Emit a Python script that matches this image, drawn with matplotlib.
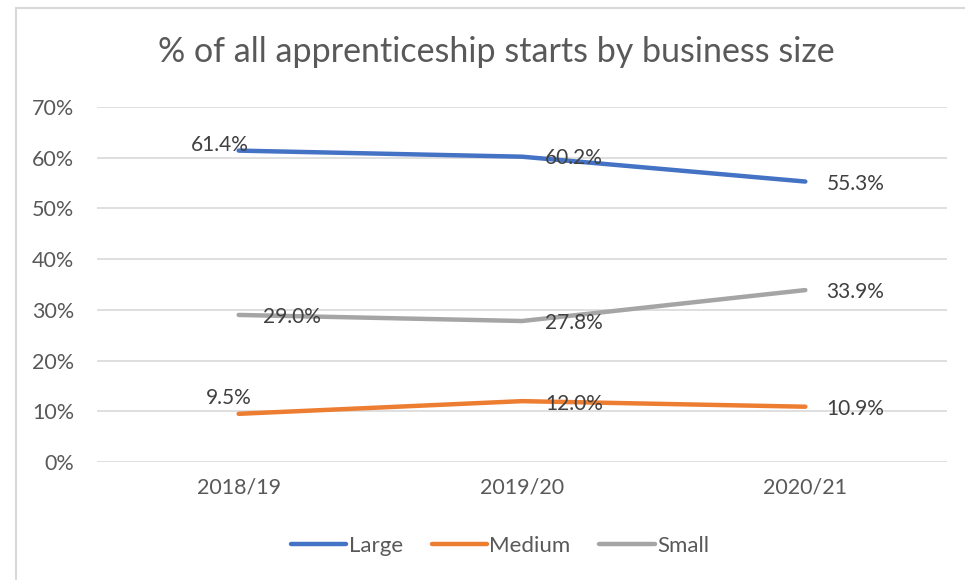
import numpy as np
import matplotlib.pyplot as plt
from matplotlib.patches import Rectangle
from matplotlib.ticker import FuncFormatter

plt.rcParams['font.family'] = ['Lato', 'DejaVu Sans']

years = ['2018/19', '2019/20', '2020/21']
large = [61.4, 60.2, 55.3]
medium = [9.5, 12.0, 10.9]
small = [29.0, 27.8, 33.9]

series = [
    ('Large', large, '#4472C4'),
    ('Medium', medium, '#ED7D31'),
    ('Small', small, '#A5A5A5'),
]

# label offsets in pixels (dx, dy) and horizontal alignment, per series / point
label_offsets = {
    'Large': [(-19, 6, 'center'), (23, -1, 'left'), (21, -2, 'left')],
    'Medium': [(-10, 16, 'center'), (23, -3, 'left'), (21, -2, 'left')],
    'Small': [(24, -2, 'left'), (23, -2, 'left'), (21, -2, 'left')],
}

W, H = 965, 580
fig = plt.figure(figsize=(W / 100, H / 100), dpi=100)
ax = fig.add_axes([97 / W, 1 - 462 / H, 850 / W, 355 / H])

x = np.arange(len(years))
for name, vals, col in series:
    ax.plot(x, vals, color=col, lw=3.2, solid_capstyle='round', label=name, zorder=3)
    for i, v in enumerate(vals):
        dx, dy, ha = label_offsets[name][i]
        ax.annotate(f'{v:.1f}%', (x[i], v), xytext=(dx * 0.72, dy * 0.72),
                    textcoords='offset points', ha=ha, va='center',
                    fontsize=15, color='#404040', zorder=4)

ax.set_xlim(-0.5, len(years) - 0.5)
ax.set_ylim(0, 70)
ax.set_yticks(np.arange(0, 71, 10))
ax.yaxis.set_major_formatter(FuncFormatter(lambda v, p: f'{v:.0f}%'))
ax.set_xticks(x)
ax.set_xticklabels(years)
ax.tick_params(axis='both', length=0, labelsize=15.5, colors='#595959')
ax.tick_params(axis='y', pad=16.5)
ax.tick_params(axis='x', pad=11)
ax.grid(axis='y', color='#D9D9D9', lw=1.2)
ax.set_axisbelow(True)
for s in ax.spines.values():
    s.set_visible(False)

fig.text(496 / W, 1 - 52 / H, '% of all apprenticeship starts by business size',
         ha='center', va='center', fontsize=24.5, color='#595959')

leg = fig.legend(loc='center', bbox_to_anchor=(500 / W, 1 - 546 / H), ncol=3,
                 frameon=False, fontsize=16, handlelength=2.5, handletextpad=0.1,
                 columnspacing=1.3)
for t in leg.get_texts():
    t.set_color('#595959')

fig.patches.append(Rectangle((16 / W, -0.1), 1.2, 1 - 8 / H + 0.1,
                             transform=fig.transFigure, fill=False,
                             edgecolor='#D9D9D9', lw=1.5))

fig.savefig('out.png', dpi=100)
